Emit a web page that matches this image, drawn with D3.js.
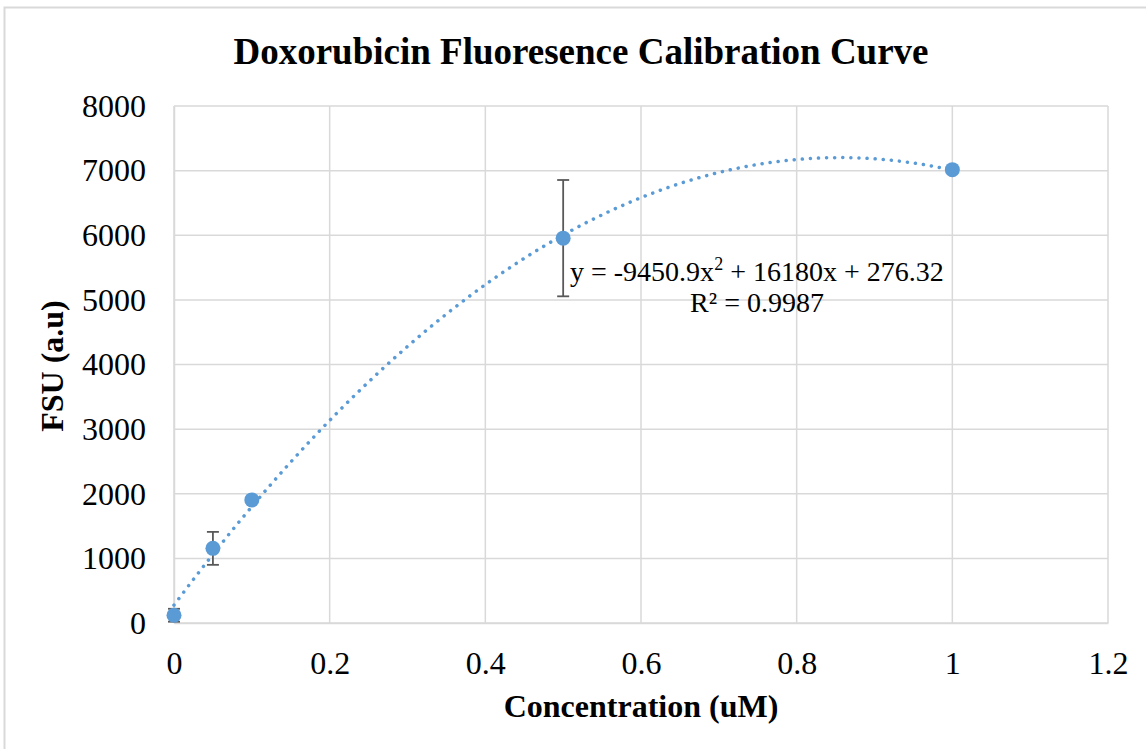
<!DOCTYPE html>
<html>
<head>
<meta charset="utf-8">
<script src="https://cdn.jsdelivr.net/npm/d3@7"></script>
<style>
  body { margin: 0; background: #fff; }
  svg { font-family: "Liberation Serif", "Times New Roman", serif; }
</style>
</head>
<body>
<div id="chart"></div>
<script>
// Data
var conc = [0, 0.05, 0.1, 0.5, 1];
var fsu = [120, 1155, 1905, 5955, 7015];
var errs = [100, 255, 0, 900, 0];
var xTicks = [0, 0.2, 0.4, 0.6, 0.8, 1, 1.2];
var yTicks = [0, 1000, 2000, 3000, 4000, 5000, 6000, 7000, 8000];
// trendline coefficients (from the chart's equation)
var coef = [276.32, 16180, -9450.9];

var width = 1146, height = 749;
var margin = {left: 174, right: 38, top: 106, bottom: 126};

var svg = d3.select('#chart').append('svg')
  .attr('width', width)
  .attr('height', height);

// outer border
svg.append('rect')
  .attr('x', 4.5).attr('y', 7.5)
  .attr('width', width + 10).attr('height', height + 10)
  .attr('fill', 'none').attr('stroke', '#d9d9d9').attr('stroke-width', 2);

var x = d3.scaleLinear().domain([0, 1.2]).range([margin.left, width - margin.right]);
var y = d3.scaleLinear().domain([0, 8000]).range([height - margin.bottom, margin.top]);

// gridlines
svg.append('g').selectAll('line').data(yTicks).enter().append('line')
  .attr('x1', x(0)).attr('x2', x(1.2))
  .attr('y1', function(d) { return y(d); }).attr('y2', function(d) { return y(d); })
  .attr('stroke', '#d9d9d9').attr('stroke-width', 1.5);
svg.append('g').selectAll('line').data(xTicks).enter().append('line')
  .attr('y1', y(0)).attr('y2', y(8000))
  .attr('x1', function(d) { return x(d); }).attr('x2', function(d) { return x(d); })
  .attr('stroke', '#d9d9d9').attr('stroke-width', 1.5);

// axes
var xAxis = svg.append('g')
  .attr('transform', 'translate(0,' + y(0) + ')')
  .call(d3.axisBottom(x).tickValues(xTicks).tickSize(0).tickPadding(28).tickFormat(d3.format('')));
var yAxis = svg.append('g')
  .attr('transform', 'translate(' + x(0) + ',0)')
  .call(d3.axisLeft(y).tickValues(yTicks).tickSize(0).tickPadding(28).tickFormat(d3.format('')));
[xAxis, yAxis].forEach(function(a) {
  a.select('.domain').attr('stroke', '#d9d9d9').attr('stroke-width', 1.5);
  a.selectAll('text').attr('font-family', '"Liberation Serif", serif')
    .attr('font-size', 32).attr('fill', '#000');
});

// trendline
var curvePts = d3.range(0, 1.0001, 0.005).map(function(t) {
  return [t, coef[0] + coef[1] * t + coef[2] * t * t];
});
svg.append('path')
  .datum(curvePts)
  .attr('d', d3.line().x(function(d) { return x(d[0]); }).y(function(d) { return y(d[1]); }))
  .attr('fill', 'none')
  .attr('stroke', '#5b9bd5')
  .attr('stroke-width', 3.5)
  .attr('stroke-linecap', 'round')
  .attr('stroke-dasharray', '0.1 8');

// error bars
var eb = svg.append('g').attr('stroke', '#595959').attr('stroke-width', 1.8);
conc.forEach(function(c, i) {
  if (!errs[i]) return;
  var lo = Math.max(0, fsu[i] - errs[i]), hi = fsu[i] + errs[i];
  eb.append('line').attr('x1', x(c)).attr('x2', x(c)).attr('y1', y(lo)).attr('y2', y(hi));
  eb.append('line').attr('x1', x(c) - 6).attr('x2', x(c) + 6).attr('y1', y(hi)).attr('y2', y(hi));
  eb.append('line').attr('x1', x(c) - 6).attr('x2', x(c) + 6).attr('y1', y(lo)).attr('y2', y(lo));
});

// points
svg.append('g').selectAll('circle').data(conc).enter().append('circle')
  .attr('cx', function(d) { return x(d); })
  .attr('cy', function(d, i) { return y(fsu[i]); })
  .attr('r', 7.5)
  .attr('fill', '#5b9bd5');

// equation label
var eq = svg.append('text').attr('x', 570).attr('y', 281)
  .attr('font-size', 28).attr('fill', '#000');
eq.append('tspan').text('y = -9450.9x');
eq.append('tspan').attr('font-size', 18).attr('dy', -11).text('2');
eq.append('tspan').attr('dy', 11).text(' + 16180x + 276.32');
svg.append('text').attr('x', 757).attr('y', 312).attr('text-anchor', 'middle')
  .attr('font-size', 28).attr('fill', '#000').text('R² = 0.9987');

// titles
svg.append('text').attr('x', 581).attr('y', 64).attr('text-anchor', 'middle')
  .attr('font-size', 37).attr('font-weight', 'bold').text('Doxorubicin Fluoresence Calibration Curve');
svg.append('text').attr('x', 641).attr('y', 717).attr('text-anchor', 'middle')
  .attr('font-size', 32).attr('font-weight', 'bold').text('Concentration (uM)');
svg.append('text').attr('transform', 'translate(63,' + 366 + ') rotate(-90)')
  .attr('text-anchor', 'middle')
  .attr('font-size', 32).attr('font-weight', 'bold').text('FSU (a.u)');
</script>
</body>
</html>
